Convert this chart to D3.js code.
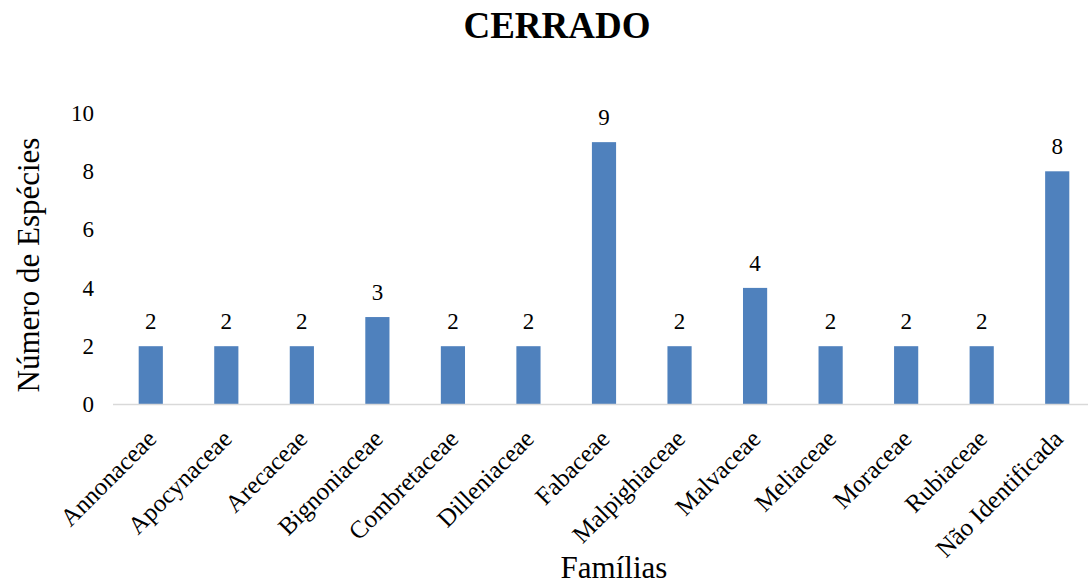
<!DOCTYPE html>
<html>
<head>
<meta charset="utf-8">
<script src="https://cdn.jsdelivr.net/npm/d3@7"></script>
<style>
  body { margin: 0; background: #fff; }
  text { font-family: "Liberation Serif", "Times New Roman", serif; fill: #000; }
</style>
</head>
<body>
<div id="chart"></div>
<script>
var familias = ["Annonaceae", "Apocynaceae", "Arecaceae", "Bignoniaceae", "Combretaceae",
  "Dilleniaceae", "Fabaceae", "Malpighiaceae", "Malvaceae", "Meliaceae", "Moraceae",
  "Rubiaceae", "Não Identificada"];
var especies = [2, 2, 2, 3, 2, 2, 9, 2, 4, 2, 2, 2, 8];
var yTicks = [0, 2, 4, 6, 8, 10];

var W = 1088, H = 585;
var serif = "'Liberation Serif', 'Times New Roman', serif";
var margin = { left: 113, right: 1095, top: 113, bottom: 404.5 };

var svg = d3.select("#chart").append("svg")
  .attr("width", W).attr("height", H)
  .attr("font-family", serif);

var x = d3.scaleBand().domain(familias).range([margin.left, margin.right])
  .paddingInner(0.68).paddingOuter(0.34);
var y = d3.scaleLinear().domain([0, 10]).range([margin.bottom, margin.top]);

// title
svg.append("text").attr("x", 557).attr("y", 38).attr("text-anchor", "middle")
  .style("font-size", "37px").style("font-weight", "bold").text("CERRADO");

// bars
svg.selectAll("rect.bar").data(especies).enter().append("rect")
  .attr("class", "bar")
  .attr("x", function(d, i) { return x(familias[i]); })
  .attr("y", function(d) { return y(d); })
  .attr("width", x.bandwidth())
  .attr("height", function(d) { return y(0) - y(d); })
  .attr("fill", "#4F81BD");

// value labels
svg.selectAll("text.val").data(especies).enter().append("text")
  .attr("class", "val")
  .attr("x", function(d, i) { return x(familias[i]) + x.bandwidth() / 2; })
  .attr("y", function(d) { return y(d) - 17; })
  .attr("text-anchor", "middle")
  .style("font-family", serif)
  .style("font-size", "23px")
  .text(function(d) { return d; });

// x axis line
svg.append("line").attr("x1", margin.left).attr("x2", margin.right)
  .attr("y1", margin.bottom).attr("y2", margin.bottom)
  .attr("stroke", "#D9D9D9").attr("stroke-width", 1.5);

// y axis ticks (no line)
var yAxis = svg.append("g").attr("transform", "translate(" + (margin.left - 19) + ",0)")
  .call(d3.axisLeft(y).tickValues(yTicks).tickSize(0).tickPadding(0));
yAxis.attr("font-family", serif);
yAxis.select(".domain").remove();
yAxis.selectAll("text").style("font-size", "23px")
  .style("font-family", serif).attr("fill", "#000");

// x category labels
svg.selectAll("text.cat").data(familias).enter().append("text")
  .attr("class", "cat")
  .attr("text-anchor", "end")
  .attr("transform", function(d) {
    return "translate(" + (x(d) + x.bandwidth() / 2 + 7) + "," + (margin.bottom + 36) + ") rotate(-45)";
  })
  .style("font-family", serif)
  .style("font-size", "25px")
  .text(function(d) { return d; });

// axis titles
svg.append("text").attr("text-anchor", "middle")
  .attr("transform", "translate(39,265) rotate(-90)")
  .style("font-size", "31px").text("Número de Espécies");
svg.append("text").attr("x", 614).attr("y", 578).attr("text-anchor", "middle")
  .style("font-size", "31px").text("Famílias");
</script>
</body>
</html>
